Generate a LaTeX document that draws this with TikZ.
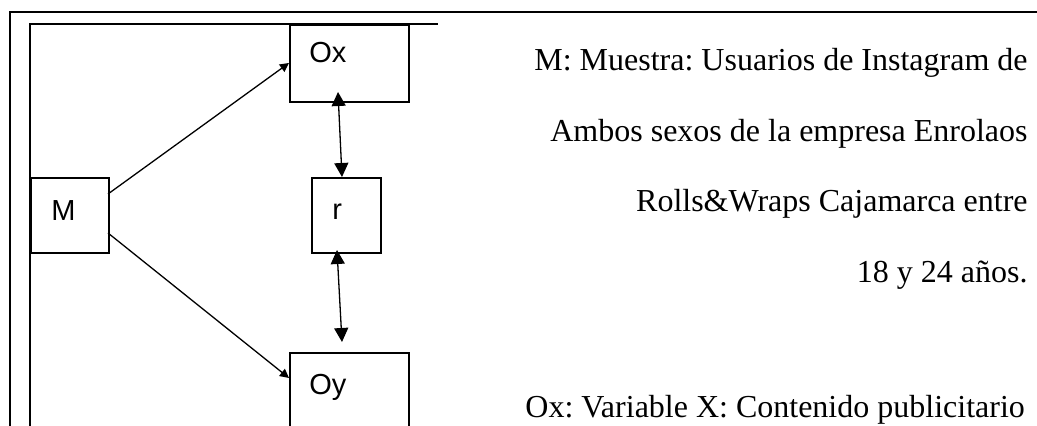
\documentclass[tikz,border=0pt]{standalone}
\usepackage{fontspec}
\setmainfont{Liberation Serif}
\newfontfamily\diagfont{Liberation Sans}
\usetikzlibrary{arrows.meta}
\frenchspacing
\tikzset{
  box/.style={draw=black, line width=0.8pt, inner sep=0pt, anchor=north west},
  boxlabel/.style={font=\diagfont\fontsize{14.5}{16}\selectfont, inner sep=0pt, anchor=base west},
  desc/.style={font=\fontsize{16}{18}\selectfont, inner sep=0pt},
  frameouter/.style={line width=1.1pt},
  frameinner/.style={line width=0.8pt},
  link/.style={line width=0.65pt, -{Triangle[length=4.5pt,width=4.5pt]}},
  both/.style={line width=0.65pt, {Triangle[length=7pt,width=7pt]}-{Triangle[length=7pt,width=7pt]}}
}
\begin{document}
\begin{tikzpicture}[x=0.5pt,y=-0.5pt]
\useasboundingbox (0,0) rectangle (1037,426);
\clip (0,0) rectangle (1037,426);
% frames
\draw[frameouter] (10,430) -- (10,12) -- (1037,12);
\draw[frameinner] (30,430) -- (30,24) -- (438,24);
% boxes
\node[box, minimum width=39pt, minimum height=37.5pt] (M) at (30,177) {};
\node[box, minimum width=59.5pt, minimum height=38.5pt] (Ox) at (289,24) {};
\node[box, minimum width=34.5pt, minimum height=37.5pt] (r) at (311,177) {};
\node[box, minimum width=59.5pt, minimum height=38.5pt] (Oy) at (289,352) {};
% labels
\node[boxlabel] (tM) at (51,221) {M};
\node[boxlabel] (tOx) at (309,63) {Ox};
\node[boxlabel] (tr) at (332,220) {r};
\node[boxlabel] (tOy) at (309,395) {Oy};
% connector end points
\coordinate (m1) at (108,194);
\coordinate (m2) at (108,233);
\coordinate (ox1) at (289,63);
\coordinate (oy1) at (289,378);
\coordinate (oxb) at (338,92);
\coordinate (rt) at (342,177);
\coordinate (rb) at (337,250);
\coordinate (oyt) at (342,342);
% connectors
\draw[link] (m1) -- (ox1);
\draw[link] (m2) -- (oy1);
\draw[both] (oxb) -- (rt);
\draw[both] (rb) -- (oyt);
% description
\node[desc, anchor=base east] (d1) at (1028,71) {M: Muestra: Usuarios de Instagram de};
\node[desc, anchor=base east] (d2) at (1028,141.5) {Ambos sexos de la empresa Enrolaos};
\node[desc, anchor=base east] (d3) at (1028,212) {Rolls\&Wraps Cajamarca entre};
\node[desc, anchor=base east] (d4) at (1028,282.5) {18 y 24 años.};
\node[desc, anchor=base west] (d5) at (525,417) {Ox: Variable X: Contenido publicitario};
\end{tikzpicture}
\end{document}
